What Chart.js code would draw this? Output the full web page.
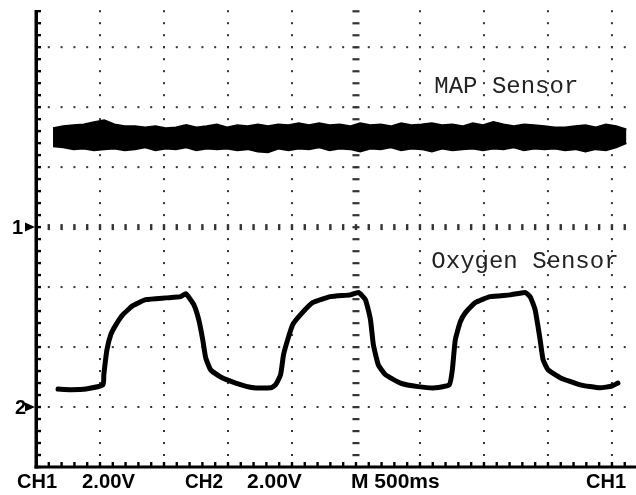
<!doctype html>
<html>

<head>
    <script src="https://cdn.jsdelivr.net/npm/chart.js@4.4.0/dist/chart.umd.min.js"></script>
    <style>
        body { margin: 0; background: #fff; }
        .scope { position: relative; width: 636px; height: 495px; }
    </style>
</head>

<body>
<div class="scope"><canvas id="chart"></canvas></div>
<script>
// time base 500 ms/div, vertical scale in screen divisions (2.00 V/div per channel)
const msPerDiv = 500;
const xMaxMs = 4688;
const yMaxDiv = 7.62;
const ch1Ground = 4;   // "1" marker
const ch2Ground = 1;   // "2" marker

// CH1 - MAP sensor, noisy band read as upper / lower envelope
const mapTime = [133, 213, 293, 373, 453, 533, 613, 693, 773, 853, 933, 1013, 1093, 1173, 1253, 1333, 1413, 1493, 1573, 1653,
    1733, 1813, 1893, 1973, 2053, 2133, 2213, 2293, 2373, 2453, 2533, 2613, 2693, 2773, 2853, 2933, 3013, 3093, 3173, 3253,
    3333, 3413, 3493, 3573, 3653, 3733, 3813, 3893, 3973, 4053, 4133, 4213, 4293, 4373, 4453, 4533, 4613];
const mapTop = [5.65, 5.68, 5.70, 5.71, 5.75, 5.78, 5.71, 5.68, 5.68, 5.66, 5.68, 5.65, 5.66, 5.70, 5.66, 5.68, 5.71, 5.66, 5.70, 5.68,
    5.71, 5.68, 5.71, 5.70, 5.73, 5.70, 5.73, 5.70, 5.71, 5.68, 5.73, 5.70, 5.71, 5.68, 5.73, 5.70, 5.71, 5.73, 5.70, 5.71,
    5.68, 5.73, 5.70, 5.75, 5.71, 5.68, 5.71, 5.70, 5.68, 5.66, 5.66, 5.68, 5.70, 5.66, 5.71, 5.68, 5.63];
const mapBottom = [5.35, 5.33, 5.30, 5.31, 5.28, 5.30, 5.31, 5.28, 5.30, 5.33, 5.28, 5.31, 5.30, 5.33, 5.28, 5.31, 5.30, 5.31, 5.28, 5.30,
    5.26, 5.25, 5.31, 5.28, 5.31, 5.30, 5.33, 5.28, 5.31, 5.30, 5.26, 5.31, 5.30, 5.33, 5.28, 5.31, 5.30, 5.26, 5.31, 5.28,
    5.30, 5.31, 5.28, 5.31, 5.30, 5.33, 5.28, 5.31, 5.30, 5.31, 5.28, 5.30, 5.26, 5.30, 5.28, 5.33, 5.40];

// CH2 - oxygen sensor
const o2Time = [172, 273, 390, 523, 530, 554, 585, 624, 679, 757, 858, 1014, 1131, 1170, 1232, 1271, 1303, 1326, 1365, 1443,
    1560, 1700, 1833, 1872, 1911, 1934, 1966, 2005, 2067, 2161, 2301, 2457, 2519, 2574, 2613, 2636, 2675, 2730, 2847, 2987,
    3120, 3229, 3253, 3276, 3315, 3354, 3432, 3549, 3705, 3822, 3861, 3900, 3939, 3962, 4001, 4095, 4251, 4407, 4501, 4547];
const o2Level = [1.30, 1.29, 1.30, 1.37, 1.54, 1.95, 2.21, 2.37, 2.54, 2.69, 2.79, 2.82, 2.84, 2.89, 2.71, 2.46, 2.12, 1.82, 1.62, 1.50,
    1.40, 1.32, 1.32, 1.37, 1.54, 1.87, 2.12, 2.37, 2.54, 2.74, 2.84, 2.87, 2.91, 2.79, 2.46, 2.04, 1.70, 1.54, 1.40, 1.34,
    1.32, 1.37, 1.62, 2.12, 2.42, 2.57, 2.74, 2.84, 2.87, 2.91, 2.84, 2.62, 2.12, 1.79, 1.62, 1.49, 1.37, 1.32, 1.35, 1.40];

const traceLabels = [
    { text: 'MAP Sensor', t: 3112, div: 6.35 },
    { text: 'Oxygen Sensor', t: 3089, div: 3.42 }
];
// readout line under the screen: text, left px, width px
const readout = [
    ['CH1', 17, 40], ['2.00V', 82, 53], ['CH2', 185, 38], ['2.00V', 247, 55], ['M 500ms', 351, 93], ['CH1', 586, 40]
];

function pairs(xs, ys) {
    return xs.map((t, i) => ({ x: t, y: ys[i] }));
}

const graticule = {
    id: 'graticule',
    beforeDatasetsDraw(chart) {
        const { ctx, chartArea, scales: { x, y } } = chart;
        ctx.save();
        ctx.fillStyle = '#333';
        const nx = Math.floor(x.max / (msPerDiv / 5));
        const ny = Math.floor(y.max * 5);
        // vertical dotted lines
        for (let i = 1; i * msPerDiv <= x.max; i++) {
            const px = x.getPixelForValue(i * msPerDiv);
            for (let k = 0; k <= ny; k++) {
                const py = y.getPixelForValue(k / 5);
                if (i == 5) ctx.fillRect(px - 3.5, py - 1, 7, 2.2);
                else ctx.fillRect(px - 1, py - 1, 2, 2);
            }
        }
        // horizontal dotted lines
        for (let j = 1; j <= Math.floor(y.max); j++) {
            const py = y.getPixelForValue(j);
            for (let k = 1; k <= nx; k++) {
                const px = x.getPixelForValue(k * msPerDiv / 5);
                if (j == ch1Ground) ctx.fillRect(px - 1.2, py - 3, 2.4, 6);
                else ctx.fillRect(px - 1, py - 1, 2, 2);
            }
        }
        // left and bottom frame with minor ticks
        ctx.fillStyle = '#000';
        ctx.fillRect(chartArea.left - 1.5, chartArea.top, 3.5, chartArea.bottom - chartArea.top + 1.5);
        ctx.fillRect(chartArea.left - 1.5, chartArea.bottom - 1.5, chartArea.right - chartArea.left + 2, 3);
        for (let k = 0; k <= ny; k++) {
            const py = y.getPixelForValue(k / 5);
            ctx.fillRect(chartArea.left, py - 1.2, 5, 2.4);
        }
        for (let k = 1; k <= nx; k++) {
            const px = x.getPixelForValue(k * msPerDiv / 5);
            ctx.fillRect(px - 1.2, chartArea.bottom - 5, 2.4, 5);
        }
        ctx.restore();
    },
    afterDraw(chart) {
        const { ctx, chartArea, scales: { x, y } } = chart;
        ctx.save();
        ctx.fillStyle = '#222';
        ctx.font = '24px "Liberation Mono", monospace';
        ctx.textBaseline = 'middle';
        ctx.textAlign = 'left';
        traceLabels.forEach(l => ctx.fillText(l.text, x.getPixelForValue(l.t), y.getPixelForValue(l.div)));

        // ground markers
        ctx.fillStyle = '#000';
        ctx.font = 'bold 20px "Liberation Sans", Arial, sans-serif';
        [['1', ch1Ground, 12], ['2', ch2Ground, 15]].forEach(([txt, lvl, lx]) => {
            const py = y.getPixelForValue(lvl);
            ctx.fillText(txt, lx, py + 1, 12);
            ctx.beginPath();
            ctx.moveTo(chartArea.left - 11, py - 4.5);
            ctx.lineTo(chartArea.left - 1, py);
            ctx.lineTo(chartArea.left - 11, py + 4.5);
            ctx.closePath();
            ctx.fill();
        });

        ctx.font = 'bold 21px "Liberation Sans", Arial, sans-serif';
        ctx.textBaseline = 'alphabetic';
        readout.forEach(([txt, lx, w]) => ctx.fillText(txt, lx, 488, w));
        ctx.restore();
    }
};

const data = {
    datasets: [
        {
            label: 'MAP Sensor',
            data: pairs(mapTime, mapTop),
            borderColor: '#000',
            backgroundColor: '#000',
            borderWidth: 2,
            fill: '+1',
            pointRadius: 0,
            tension: 0
        },
        {
            label: 'MAP Sensor (low)',
            data: pairs(mapTime, mapBottom),
            borderColor: '#000',
            borderWidth: 2,
            fill: false,
            pointRadius: 0,
            tension: 0
        },
        {
            label: 'Oxygen Sensor',
            data: pairs(o2Time, o2Level),
            borderColor: '#000',
            borderWidth: 5,
            borderJoinStyle: 'round',
            borderCapStyle: 'round',
            fill: false,
            pointRadius: 0,
            tension: 0.15
        }
    ]
};

const config = {
    type: 'line',
    data: data,
    options: {
        responsive: true,
        maintainAspectRatio: false,
        animation: false,
        layout: { padding: { left: 36, top: 10, right: 0, bottom: 28 } },
        plugins: {
            legend: { display: false },
            tooltip: { enabled: false }
        },
        scales: {
            x: { type: 'linear', display: false, min: 0, max: xMaxMs },
            y: { type: 'linear', display: false, min: 0, max: yMaxDiv }
        }
    },
    plugins: [graticule]
};

const ctx = document.getElementById('chart').getContext('2d');
const chart = new Chart(ctx, config);
</script>
</body>

</html>
